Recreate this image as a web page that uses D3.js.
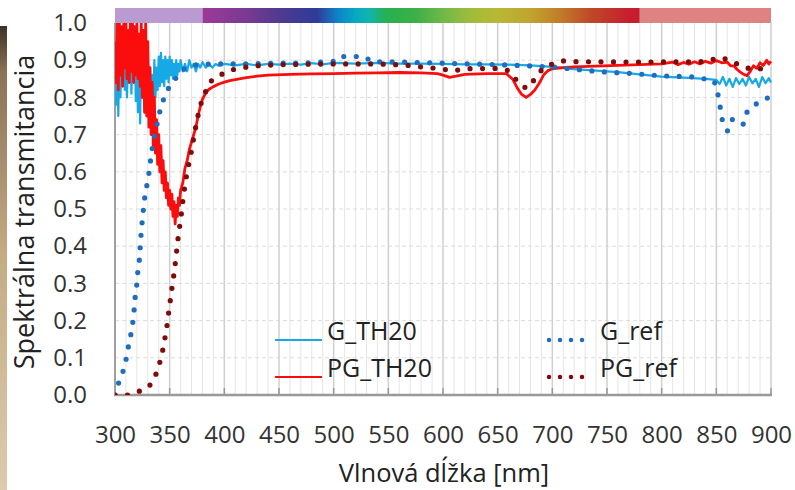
<!DOCTYPE html>
<html>
<head>
<meta charset="utf-8">
<script src="https://cdn.jsdelivr.net/npm/d3@7.9.0/dist/d3.min.js"></script>
<style>
  body { margin: 0; background: #fff; }
  svg { display: block; font-family: "Open Sans", sans-serif; }
</style>
</head>
<body>
<div id="chart"></div>
<script>
// ---------------------------------------------------------
// Data (wavelength nm, transmittance)
// ---------------------------------------------------------
const xTicks = [300, 350, 400, 450, 500, 550, 600, 650, 700, 750, 800, 850, 900];
const yTicks = [0, 0.1, 0.2, 0.3, 0.4, 0.5, 0.6, 0.7, 0.8, 0.9, 1.0];

const gTh20 = [
  [300,0.88],[301,0.78],[302,0.97],[303,0.75],[304,0.92],[305,0.80],[306,0.95],[307,0.83],
  [308,0.99],[309,0.82],[310,0.93],[311,0.80],[312,0.96],[313,0.84],[314,0.98],[315,0.81],
  [316,0.94],[317,0.86],[318,0.97],[319,0.79],[320,0.92],[321,0.76],[322,0.95],[323,0.73],
  [324,0.97],[325,0.80],[326,0.90],[327,0.83],[328,0.95],[329,0.78],[330,0.92],[331,0.82],
  [332,0.88],[333,0.80],[334,0.86],[335,0.79],[336,0.90],[337,0.80],[338,0.88],[339,0.82],
  [340,0.91],[341,0.83],[342,0.92],[343,0.84],[344,0.90],[345,0.83],[346,0.91],[347,0.85],
  [348,0.90],[349,0.84],[350,0.91],[351,0.86],[352,0.90],[353,0.85],[354,0.89],[355,0.86],
  [356,0.90],[357,0.86],[358,0.89],[359,0.87],[360,0.90],[362,0.87],[364,0.89],[366,0.87],
  [368,0.90],[370,0.88],[372,0.89],[374,0.87],[376,0.89],[378,0.88],[380,0.895],[383,0.88],
  [386,0.89],[389,0.88],[392,0.89],[395,0.885],[400,0.89],[410,0.886],[420,0.89],[430,0.886],
  [440,0.89],[450,0.888],[460,0.891],[470,0.888],[480,0.892],[490,0.889],[500,0.893],[520,0.891],
  [540,0.893],[560,0.891],[580,0.891],[600,0.89],[620,0.889],[640,0.889],[660,0.888],[680,0.886],
  [700,0.882],[720,0.876],[740,0.872],[760,0.868],[780,0.862],[800,0.856],[820,0.853],[840,0.85],
  [850,0.847],[853,0.836],[856,0.855],[859,0.832],[862,0.85],[865,0.828],[868,0.852],[871,0.836],
  [874,0.85],[877,0.832],[880,0.855],[883,0.838],[886,0.85],[889,0.828],[892,0.855],[895,0.838],
  [898,0.852],[900,0.84]
];

const pgTh20 = [
  [300,0.95],[301,0.84],[302,1.0],[303,0.82],[304,1.0],[305,0.86],[306,0.99],[307,0.83],
  [308,1.0],[309,0.88],[310,1.0],[311,0.85],[312,0.98],[313,0.84],[314,1.0],[315,0.87],
  [316,1.0],[317,0.84],[318,0.99],[319,0.86],[320,1.0],[321,0.85],[322,0.97],[323,0.83],
  [324,1.0],[325,0.80],[326,0.98],[327,0.76],[328,1.0],[329,0.75],[330,0.95],[331,0.72],
  [332,0.88],[333,0.70],[334,0.84],[335,0.67],[336,0.80],[337,0.65],[338,0.74],[339,0.62],
  [340,0.70],[341,0.60],[342,0.67],[343,0.57],[344,0.63],[345,0.55],[346,0.60],[347,0.53],
  [348,0.57],[349,0.51],[350,0.55],[351,0.50],[352,0.54],[353,0.48],[354,0.52],[355,0.46],
  [356,0.51],[357,0.48],[358,0.53],[359,0.51],[360,0.55],[362,0.57],[364,0.61],[366,0.63],
  [368,0.66],[370,0.68],[372,0.70],[374,0.72],[376,0.75],[378,0.775],[380,0.795],[383,0.812],
  [386,0.822],[390,0.829],[395,0.836],[400,0.841],[405,0.845],[410,0.848],[420,0.853],[430,0.857],
  [440,0.86],[460,0.862],[480,0.863],[500,0.864],[520,0.865],[540,0.866],[560,0.867],[580,0.866],
  [595,0.864],[600,0.86],[606,0.854],[612,0.857],[620,0.862],[640,0.864],[658,0.864],[664,0.848],
  [668,0.825],[672,0.808],[676,0.80],[680,0.808],[684,0.82],[688,0.838],[692,0.86],[696,0.872],
  [700,0.877],[710,0.88],[720,0.882],[740,0.884],[760,0.886],[780,0.888],[800,0.89],[810,0.895],
  [815,0.888],[820,0.894],[825,0.889],[830,0.896],[835,0.89],[840,0.897],[845,0.892],[850,0.899],
  [855,0.893],[860,0.895],[863,0.885],[866,0.885],[869,0.875],[872,0.868],[875,0.862],[878,0.858],
  [881,0.87],[884,0.885],[887,0.878],[890,0.893],[893,0.886],[896,0.9],[898,0.89],[900,0.897]
];

const gRef = [
  [300,0.0],[303,0.03],[307,0.06],[310,0.094],[312,0.127],[314.3,0.159],[316.2,0.193],[317.4,0.226],
  [318.3,0.26],[319.8,0.293],[320.7,0.327],[322.2,0.36],[324,0.44],[326.8,0.524],[330.8,0.591],
  [333.5,0.654],[335.7,0.69],[340.5,0.757],[344.2,0.793],[348.8,0.824],[354.9,0.849],[361.9,0.874],
  [371.6,0.887],[390,0.89],[420,0.89],[450,0.892],[480,0.893],[500,0.897],[505,0.91],[528,0.91],
  [535,0.896],[560,0.895],[600,0.892],[650,0.888],[700,0.882],[720,0.876],[744,0.869],[774,0.864],
  [800,0.858],[830,0.855],[848,0.845],[851.8,0.804],[853.7,0.771],[855.6,0.737],[860.2,0.71],
  [864.7,0.741],[869,0.74],[874.5,0.728],[878.2,0.762],[886.2,0.782],[896,0.797],[900,0.805]
];

const pgRef = [
  [300,0.0],[311.6,0.0],[321.3,0.009],[331,0.022],[336.6,0.049],[340.5,0.082],[343.3,0.115],
  [345.4,0.148],[347.3,0.181],[348.8,0.215],[350.3,0.248],[351.8,0.282],[353.4,0.314],[355,0.35],
  [356.5,0.39],[358,0.43],[360,0.47],[362,0.52],[364,0.565],[366,0.6],[369.2,0.645],[371.6,0.685],
  [374.7,0.735],[377.7,0.775],[380.8,0.802],[386.9,0.842],[396,0.86],[406.7,0.874],[416.4,0.88],
  [430,0.885],[450,0.888],[500,0.89],[540,0.89],[565,0.887],[580,0.882],[598,0.877],[609,0.871],
  [620,0.877],[650,0.878],[660,0.872],[665,0.855],[670,0.835],[676.8,0.824],[684.4,0.851],
  [691,0.877],[700,0.89],[710,0.898],[722,0.896],[780,0.895],[840,0.896],[853,0.908],[862,0.9],
  [873,0.884],[883,0.875],[893,0.878],[900,0.89]
];

// visible spectrum band shown above the plot
const uvBand = [300, 380];
const irBand = [780, 900];
const spectrumStops = [
  [380,"#9c3a98"],[420,"#7a3a90"],[455,"#4a3a90"],[485,"#2e3c98"],[495,"#1e62b4"],
  [505,"#0a88c8"],[520,"#08a8c0"],[532,"#10b4b0"],[548,"#28b050"],[575,"#3cb048"],
  [600,"#70b848"],[625,"#a0bc3c"],[650,"#b8b834"],[680,"#c0a430"],[705,"#c08028"],
  [735,"#c04828"],[770,"#c61e2e"],[780,"#c81c2c"]
];

const series = [
  { name: "G_TH20",  data: gTh20,  color: "#17a9e6", width: 2.2, dotted: false },
  { name: "PG_TH20", data: pgTh20, color: "#fb0d0d", width: 2.8, dotted: false },
  { name: "G_ref",   data: gRef,   color: "#1f6dbf", width: 5.2, dotted: true },
  { name: "PG_ref",  data: pgRef,  color: "#800b0b", width: 5.2, dotted: true }
];

// ---------------------------------------------------------
// Layout
// ---------------------------------------------------------
const width = 795;
const height = 490;
const margin = { top: 23, right: 24, bottom: 95, left: 115 };

const svg = d3.select("#chart")
  .append("svg")
  .attr("width", width)
  .attr("height", height);

const x = d3.scaleLinear().domain([300, 900]).range([margin.left, width - margin.right]);
const y = d3.scaleLinear().domain([0, 1]).range([height - margin.bottom, margin.top]);

const defs = svg.append("defs");

defs.append("clipPath").attr("id", "plot-clip")
  .append("rect")
  .attr("x", margin.left)
  .attr("y", margin.top)
  .attr("width", x(900) - margin.left + 2)
  .attr("height", y(0) - margin.top);

// brown strip on the far left (edge of the photo)
const strip = defs.append("linearGradient").attr("id", "strip")
  .attr("x1", 0).attr("y1", 0).attr("x2", 0).attr("y2", 1);
strip.append("stop").attr("offset", "0%").attr("stop-color", "#3f3128");
strip.append("stop").attr("offset", "10%").attr("stop-color", "#8a7356");
strip.append("stop").attr("offset", "50%").attr("stop-color", "#c4ac84");
strip.append("stop").attr("offset", "100%").attr("stop-color", "#dccbac");

svg.append("rect")
  .attr("x", 0).attr("y", 26).attr("width", 7).attr("height", height - 26)
  .attr("fill", "url(#strip)");

// ---------------------------------------------------------
// Spectrum bar
// ---------------------------------------------------------
const grad = defs.append("linearGradient").attr("id", "spectrum")
  .attr("gradientUnits", "userSpaceOnUse")
  .attr("x1", x(380)).attr("x2", x(780)).attr("y1", 0).attr("y2", 0);

grad.selectAll("stop")
  .data(spectrumStops)
  .join("stop")
  .attr("offset", d => (d[0] - 380) / 400)
  .attr("stop-color", d => d[1]);

const barY = 8, barH = margin.top - barY;

svg.append("rect")
  .attr("x", x(uvBand[0])).attr("y", barY)
  .attr("width", x(uvBand[1]) - x(uvBand[0])).attr("height", barH)
  .attr("fill", "#b99bd2");

svg.append("rect")
  .attr("x", x(380)).attr("y", barY)
  .attr("width", x(780) - x(380)).attr("height", barH)
  .attr("fill", "url(#spectrum)");

svg.append("rect")
  .attr("x", x(irBand[0])).attr("y", barY)
  .attr("width", x(irBand[1]) - x(irBand[0])).attr("height", barH)
  .attr("fill", "#de8282");

// ---------------------------------------------------------
// Grid
// ---------------------------------------------------------
const grid = svg.append("g").attr("class", "grid");

grid.selectAll("line.minor")
  .data(d3.range(310, 900, 10).filter(d => d % 50 !== 0))
  .join("line")
  .attr("class", "minor")
  .attr("x1", d => x(d)).attr("x2", d => x(d))
  .attr("y1", margin.top).attr("y2", y(0))
  .attr("stroke", "#e6e6e6")
  .attr("stroke-width", 1);

grid.selectAll("line.hgrid")
  .data(yTicks.slice(1, -1))
  .join("line")
  .attr("class", "hgrid")
  .attr("x1", margin.left).attr("x2", x(900))
  .attr("y1", d => y(d)).attr("y2", d => y(d))
  .attr("stroke", "#dcdcdc")
  .attr("stroke-dasharray", "4 3")
  .attr("stroke-width", 1);

grid.selectAll("line.major")
  .data(xTicks.slice(1))
  .join("line")
  .attr("class", "major")
  .attr("x1", d => x(d)).attr("x2", d => x(d))
  .attr("y1", margin.top).attr("y2", y(0))
  .attr("stroke", "#cfcfcf")
  .attr("stroke-width", 1.5);

// ---------------------------------------------------------
// Axes
// ---------------------------------------------------------
const xAxis = svg.append("g")
  .attr("transform", `translate(0,${y(0)})`)
  .call(d3.axisBottom(x).tickValues(xTicks).tickSize(0).tickPadding(31));
xAxis.select(".domain").remove();
xAxis.selectAll("text")
  .attr("font-size", 24)
  .attr("font-family", "Open Sans")
  .attr("fill", "#333");

const yAxis = svg.append("g")
  .attr("transform", `translate(${margin.left},0)`)
  .call(d3.axisLeft(y).tickValues(yTicks).tickFormat(d3.format(".1f")).tickSize(0).tickPadding(28));
yAxis.select(".domain").remove();
yAxis.selectAll("text")
  .attr("font-size", 24)
  .attr("font-family", "Open Sans")
  .attr("fill", "#333");

svg.append("line")
  .attr("x1", margin.left).attr("x2", margin.left)
  .attr("y1", margin.top).attr("y2", y(0))
  .attr("stroke", "#a0a0a0").attr("stroke-width", 2);

svg.selectAll("line.xtick")
  .data(xTicks.slice(1))
  .join("line")
  .attr("class", "xtick")
  .attr("x1", d => x(d)).attr("x2", d => x(d))
  .attr("y1", y(0) - 7).attr("y2", y(0))
  .attr("stroke", "#999").attr("stroke-width", 1.5);

svg.append("line")
  .attr("x1", margin.left - 1).attr("x2", x(900) + 1)
  .attr("y1", y(0)).attr("y2", y(0))
  .attr("stroke", "#999").attr("stroke-width", 2.5);

svg.append("text")
  .attr("x", (margin.left + x(900)) / 2 + 1)
  .attr("y", 482)
  .attr("text-anchor", "middle")
  .attr("font-size", 25.5)
  .attr("fill", "#222")
  .text("Vlnová dĺžka [nm]");

svg.append("text")
  .attr("transform", `translate(34,${(margin.top + y(0)) / 2 + 3}) rotate(-90)`)
  .attr("text-anchor", "middle")
  .attr("font-size", 27)
  .attr("fill", "#222")
  .text("Spektrálna transmitancia");

// ---------------------------------------------------------
// Lines
// ---------------------------------------------------------
const line = d3.line()
  .x(d => x(d[0]))
  .y(d => y(d[1]));

const plot = svg.append("g").attr("clip-path", "url(#plot-clip)");

plot.selectAll("path")
  .data(series)
  .join("path")
  .attr("d", d => line(d.data))
  .attr("fill", "none")
  .attr("stroke", d => d.color)
  .attr("stroke-width", d => d.width)
  .attr("stroke-linejoin", "round")
  .attr("stroke-linecap", d => d.dotted ? "round" : "butt")
  .attr("stroke-dasharray", d => d.dotted ? "0 12.5" : null);

// ---------------------------------------------------------
// Legend
// ---------------------------------------------------------
const legendPos = [
  { x: 275, y: 340 },
  { x: 275, y: 377 },
  { x: 547, y: 340 },
  { x: 547, y: 377 }
];

const legend = svg.append("g").attr("class", "legend");

series.forEach((s, i) => {
  const p = legendPos[i];
  const g = legend.append("g").attr("transform", `translate(${p.x},${p.y})`);
  if (s.dotted) {
    g.append("line")
      .attr("x1", 2).attr("x2", 42)
      .attr("stroke", s.color).attr("stroke-width", 4.5)
      .attr("stroke-linecap", "round")
      .attr("stroke-dasharray", "0 11");
  } else {
    g.append("line")
      .attr("x1", 0).attr("x2", 47)
      .attr("stroke", s.color).attr("stroke-width", 2);
  }
  g.append("text")
    .attr("x", s.dotted ? 53 : 52)
    .attr("y", 0)
    .attr("font-size", 25)
    .attr("fill", "#222")
    .text(s.name);
});
</script>
</body>
</html>
